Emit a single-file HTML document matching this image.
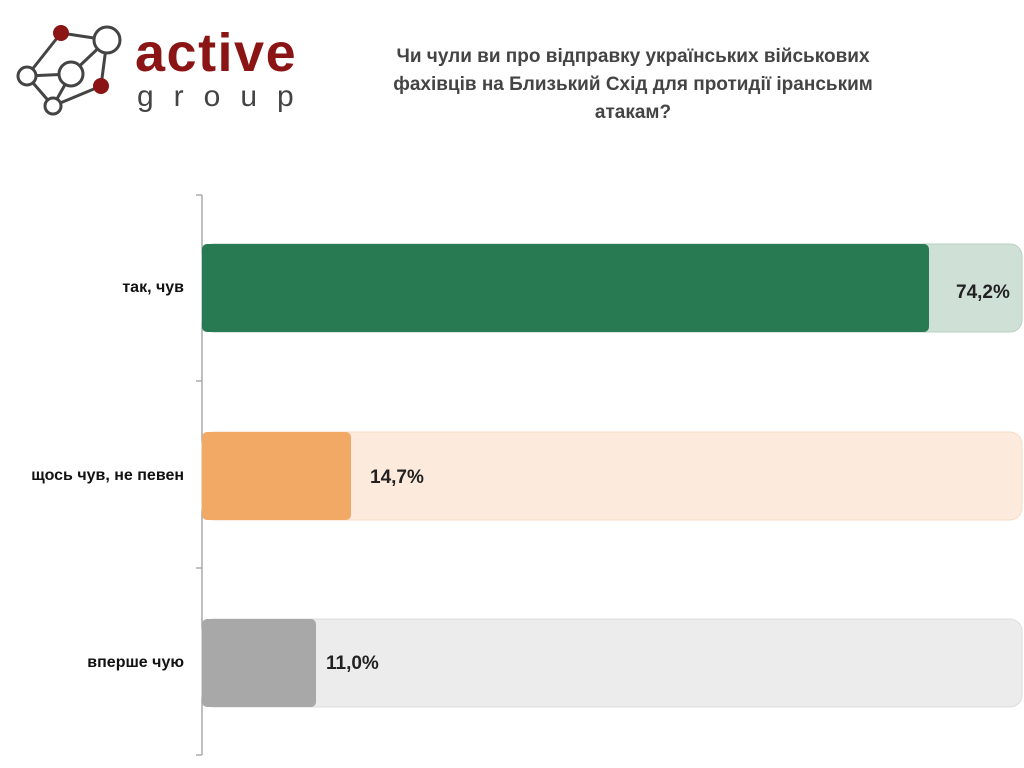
<!DOCTYPE html><html><head><meta charset="utf-8"><style>
body{margin:0;width:1024px;height:768px;background:#fff;font-family:"Liberation Sans",sans-serif;overflow:hidden;position:relative}
.t{position:absolute;left:368px;top:43px;width:530px;text-align:center;font-weight:bold;font-size:19px;line-height:28px;color:#444}
.l{position:absolute;right:840px;font-weight:bold;font-size:16px;color:#111;white-space:nowrap}
.v{position:absolute;font-weight:bold;font-size:19px;color:#222}
</style></head><body>
<svg width="1024" height="768" style="position:absolute;left:0;top:0">
<g stroke="#444" stroke-width="3" fill="#fff">
<line x1="61" y1="33" x2="107" y2="40"/><line x1="61" y1="33" x2="27" y2="76"/><line x1="27" y1="76" x2="71" y2="74"/><line x1="71" y1="74" x2="107" y2="40"/><line x1="107" y1="40" x2="101" y2="86"/><line x1="27" y1="76" x2="53" y2="106"/><line x1="71" y1="74" x2="53" y2="106"/><line x1="53" y1="106" x2="101" y2="86"/>
<circle cx="107" cy="40" r="13"/><circle cx="27" cy="76" r="9"/><circle cx="71" cy="74" r="12"/><circle cx="53" cy="106" r="8"/>
</g>
<circle cx="61" cy="33" r="8" fill="#8b1414"/><circle cx="101" cy="86" r="8" fill="#8b1414"/>
<text x="135" y="71" font-family="Liberation Sans" font-weight="bold" font-size="54" fill="#8b1414" letter-spacing="1.5">active</text>
<text x="137" y="106" font-family="Liberation Sans" font-size="30" fill="#444" letter-spacing="20">group</text>
<g stroke="#aaa" stroke-width="1.5"><line x1="202" y1="195" x2="202" y2="755"/>
<line x1="196" y1="195" x2="202" y2="195"/><line x1="196" y1="381" x2="202" y2="381"/><line x1="196" y1="568" x2="202" y2="568"/><line x1="196" y1="755" x2="202" y2="755"/></g>
<rect x="202" y="244" width="820" height="88" rx="12" fill="#cfe0d7" stroke="#b9cfc2"/>
<rect x="202" y="244" width="727" height="88" rx="5" fill="#287a52"/>
<rect x="202" y="432" width="820" height="88" rx="12" fill="#fcebdc" stroke="#f6dcc7"/>
<rect x="202" y="432" width="149" height="88" rx="5" fill="#f2a966"/>
<rect x="202" y="619" width="820" height="88" rx="12" fill="#ececec" stroke="#ddd"/>
<rect x="202" y="619" width="114" height="88" rx="5" fill="#a8a8a8"/>
</svg>
<div class="t">Чи чули ви про відправку українських військових фахівців на Близький Схід для протидії іранським атакам?</div>
<div class="l" style="top:279px">так, чув</div>
<div class="l" style="top:467px">щось чув, не певен</div>
<div class="l" style="top:654px">вперше чую</div>
<div class="v" style="left:956px;top:282px">74,2%</div>
<div class="v" style="left:370px;top:467px">14,7%</div>
<div class="v" style="left:326px;top:653px">11,0%</div>
</body></html>
